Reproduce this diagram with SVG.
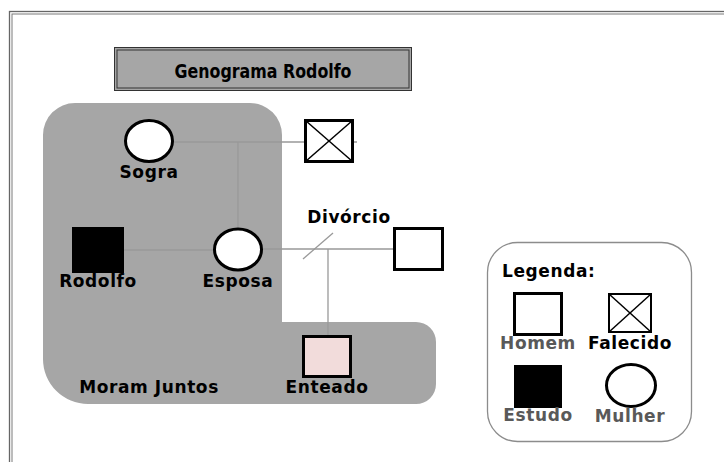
<svg xmlns="http://www.w3.org/2000/svg" width="724" height="462" viewBox="0 0 724 462">
<style>
text{font-family:"DejaVu Sans","Verdana",sans-serif;font-weight:bold;font-size:17px;letter-spacing:0.6px;fill:#000;text-anchor:middle}
.sym{fill:#fff;stroke:#000;stroke-width:3}
.blk{fill:#000;stroke:#000;stroke-width:2}
.ln{stroke:#999;stroke-width:1.3;fill:none}
.x{stroke:#000;stroke-width:1.5}
.gl{fill:#595959}
</style>
<rect width="724" height="462" fill="#fff"/>
<g id="frame" fill="none">
<rect x="9.5" y="11.5" width="740" height="480" stroke="#666" stroke-width="1.3"/>
<rect x="12" y="14" width="740" height="480" stroke="#7a7a7a" stroke-width="1"/>
</g>
<g id="title">
<rect x="114.5" y="47.5" width="297" height="43" fill="#a6a6a6" stroke="#333" stroke-width="1"/>
<rect x="117" y="50" width="292" height="38" fill="none" stroke="#333" stroke-width="1"/>
<text x="263" y="78" style="font-size:20px;letter-spacing:0" textLength="177" lengthAdjust="spacingAndGlyphs">Genograma Rodolfo</text>
</g>
<g id="household">
<path d="M75,103 H250 A32,32 0 0 1 282,135 V322 H416 A20,20 0 0 1 436,342 V384 A20,20 0 0 1 416,404 H88 A45,45 0 0 1 43,359 V135 A32,32 0 0 1 75,103 Z" fill="#a6a6a6"/>
<text x="149" y="393">Moram Juntos</text>
</g>
<g id="connectors">
<line class="ln" x1="174" y1="142" x2="357" y2="142"/>
<line class="ln" x1="238" y1="142" x2="238" y2="227"/>
<line class="ln" x1="124" y1="250" x2="213" y2="250"/>
<line class="ln" x1="263" y1="249" x2="393" y2="249"/>
<line class="ln" x1="328" y1="249" x2="328" y2="335"/>
<line class="ln" x1="303" y1="259" x2="333" y2="233"/>
</g>
<g id="sogra">
<ellipse class="sym" cx="149" cy="141" rx="23.5" ry="20.5"/>
<text x="149" y="178">Sogra</text>
</g>
<g id="sogro-falecido">
<rect class="sym" x="305.5" y="120.5" width="47" height="41"/>
<line class="x" x1="305.5" y1="120.5" x2="352.5" y2="161.5"/>
<line class="x" x1="352.5" y1="120.5" x2="305.5" y2="161.5"/>
</g>
<g id="rodolfo">
<rect class="blk" x="73" y="228" width="50" height="44"/>
<text x="98" y="287">Rodolfo</text>
</g>
<g id="esposa">
<ellipse class="sym" cx="238" cy="249.5" rx="23.5" ry="20.5"/>
<text x="238" y="287">Esposa</text>
</g>
<g id="divorcio">
<text x="349" y="223">Divórcio</text>
</g>
<g id="ex-marido">
<rect class="sym" x="394.5" y="228.5" width="48" height="41"/>
</g>
<g id="enteado">
<rect x="303.5" y="336.5" width="47" height="40" fill="#f2dcdb" stroke="#000" stroke-width="3"/>
<text x="327" y="393">Enteado</text>
</g>
<g id="legenda">
<rect x="487.5" y="242.5" width="204" height="199" rx="30" fill="#fff" stroke="#8c8c8c" stroke-width="1.3"/>
<text x="502" y="277" style="text-anchor:start">Legenda:</text>
<rect class="sym" x="514.5" y="293.5" width="47" height="41"/>
<text class="gl" x="538" y="349">Homem</text>
<rect x="609" y="294" width="42" height="38" fill="#fff" stroke="#000" stroke-width="2"/>
<line class="x" x1="609" y1="294" x2="651" y2="332"/>
<line class="x" x1="651" y1="294" x2="609" y2="332"/>
<text x="630" y="349">Falecido</text>
<rect class="blk" x="515" y="366" width="46" height="41"/>
<text class="gl" x="538" y="421">Estudo</text>
<ellipse class="sym" cx="631" cy="385.5" rx="24.5" ry="21"/>
<text class="gl" x="630" y="422">Mulher</text>
</g>
</svg>
